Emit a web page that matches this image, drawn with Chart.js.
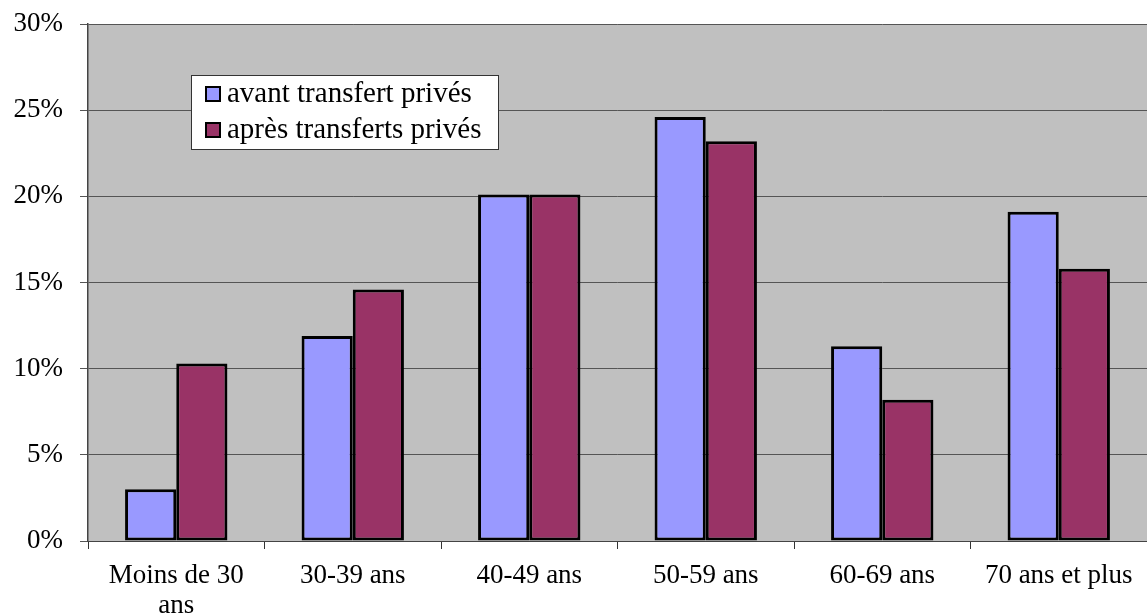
<!DOCTYPE html>
<html>
<head>
<meta charset="utf-8">
<script src="https://cdn.jsdelivr.net/npm/chart.js@4"></script>
<style>
  html, body { margin: 0; padding: 0; background: #ffffff; }
  #wrap { width: 1147px; height: 614px; }
</style>
</head>
<body>
<div id="wrap"><canvas id="age_chart" width="1147" height="614"></canvas></div>
<script>
    // Data
    const categories = [['Moins de 30', 'ans'], '30-39 ans', '40-49 ans', '50-59 ans', '60-69 ans', '70 ans et plus'];
    const seriesNames = ['avant transfert privés', 'après transferts privés'];
    const avantValues = [3.0, 11.9, 20.1, 24.6, 11.3, 19.1];
    const apresValues = [10.3, 14.6, 20.1, 23.2, 8.2, 15.8];
    const yTicks = [0, 5, 10, 15, 20, 25, 30];

    const FONT = "'Liberation Serif', 'DejaVu Serif', serif";

    // grey plot background
    const plotBackground = {
        id: 'plotBackground',
        beforeDraw(chart) {
            const { ctx, chartArea: a } = chart;
            ctx.save();
            ctx.fillStyle = '#c0c0c0';
            ctx.fillRect(a.left, a.top, a.right - a.left, a.bottom - a.top);
            ctx.restore();
        }
    };

    // legend box drawn inside the plot, like the original
    const boxLegend = {
        id: 'boxLegend',
        afterDraw(chart) {
            const { ctx, chartArea: a } = chart;
            const x = a.left + 103, y = a.top + 51, w = 307, h = 74;
            ctx.save();
            ctx.fillStyle = '#ffffff';
            ctx.fillRect(x, y, w, h);
            ctx.strokeStyle = '#333333';
            ctx.lineWidth = 1;
            ctx.strokeRect(x + 0.5, y + 0.5, w, h);
            ctx.font = '29px ' + FONT;
            ctx.textBaseline = 'alphabetic';
            chart.data.datasets.forEach((ds, i) => {
                const rowY = y + 12 + i * 36;
                ctx.fillStyle = ds.backgroundColor;
                ctx.fillRect(x + 15, rowY, 14, 14);
                ctx.strokeStyle = '#000000';
                ctx.lineWidth = 2;
                ctx.strokeRect(x + 15, rowY, 14, 14);
                ctx.fillStyle = '#000000';
                ctx.fillText(ds.label, x + 36, rowY + 15);
            });
            ctx.restore();
        }
    };

    const data = {
        labels: categories,
        datasets: [{
            label: seriesNames[0],
            data: avantValues,
            backgroundColor: '#9999ff',
            borderColor: '#000000',
            borderWidth: 3,
            borderSkipped: false
        }, {
            label: seriesNames[1],
            data: apresValues,
            backgroundColor: '#993366',
            borderColor: '#000000',
            borderWidth: 3,
            borderSkipped: false
        }]
    };

    const config = {
        type: 'bar',
        data: data,
        plugins: [plotBackground, boxLegend],
        options: {
            responsive: false,
            animation: false,
            layout: { padding: { top: 24, right: 0, left: 0, bottom: 0 } },
            datasets: { bar: { categoryPercentage: 0.58, barPercentage: 1.0 } },
            plugins: {
                legend: { display: false },
                tooltip: { enabled: false }
            },
            scales: {
                x: {
                    grid: {
                        offset: true,
                        drawOnChartArea: false,
                        drawTicks: true,
                        tickLength: 8,
                        color: '#333333'
                    },
                    border: { color: '#444444', width: 1 },
                    ticks: {
                        color: '#000000',
                        font: { family: FONT, size: 27, lineHeight: 1.1 },
                        maxRotation: 0,
                        autoSkip: false,
                        padding: 12
                    },
                    afterFit(scale) { scale.height = 73; }
                },
                y: {
                    min: 0,
                    max: 30,
                    afterBuildTicks(scale) { scale.ticks = yTicks.map(v => ({ value: v })); },
                    grid: {
                        color: '#555555',
                        lineWidth: 1,
                        tickLength: 8
                    },
                    border: { color: '#444444', width: 1.5 },
                    ticks: {
                        color: '#000000',
                        font: { family: FONT, size: 27, lineHeight: 0.5 },
                        padding: 17,
                        callback: v => v + '%'
                    },
                    afterFit(scale) { scale.width = 88; }
                }
            }
        }
    };

    const age_chart = new Chart(document.getElementById('age_chart'), config);
</script>
</body>
</html>
